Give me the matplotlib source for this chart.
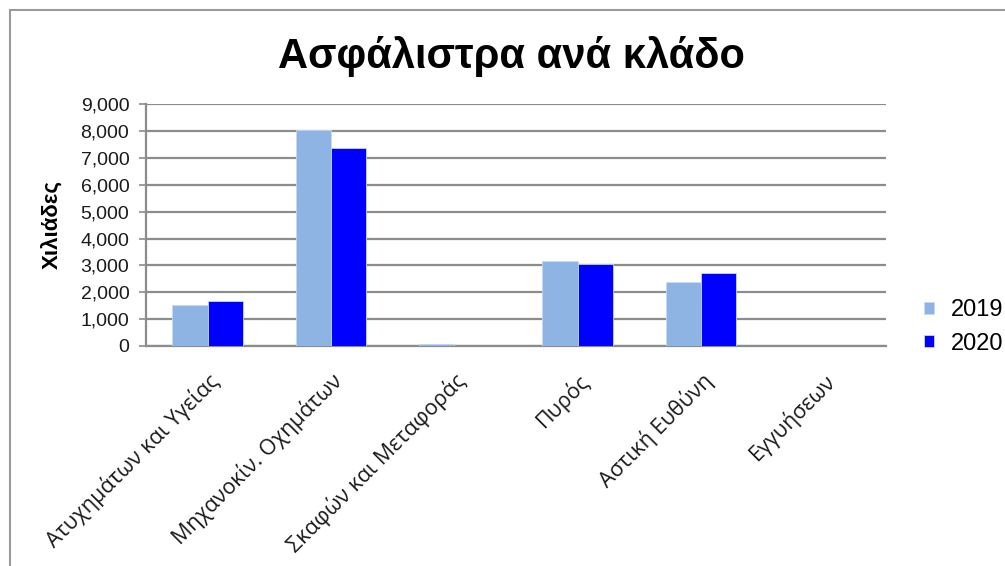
import matplotlib
matplotlib.use("Agg")
import matplotlib.pyplot as plt
from matplotlib.patches import Rectangle
import numpy as np

plt.rcParams['font.family'] = ['Liberation Sans', 'DejaVu Sans']

categories = ["Ατυχημάτων και Υγείας", "Μηχανοκίν. Οχημάτων", "Σκαφών και Μεταφοράς",
              "Πυρός", "Αστική Ευθύνη", "Εγγυήσεων"]
series_names = ["2019", "2020"]
values_2019 = [1530, 8030, 90, 3160, 2380, 0]
values_2020 = [1680, 7380, 0, 3040, 2720, 0]
yticks = [0, 1000, 2000, 3000, 4000, 5000, 6000, 7000, 8000, 9000]
ytick_labels = ["0", "1,000", "2,000", "3,000", "4,000", "5,000", "6,000", "7,000", "8,000", "9,000"]
title = "Ασφάλιστρα ανά κλάδο"
ylabel = "Χιλιάδες"

W, H = 1005, 566
fig = plt.figure(figsize=(W / 100, H / 100), dpi=100)
fig.patch.set_facecolor('white')

ax = fig.add_axes([146 / W, 1 - 346 / H, (886 - 146) / W, (346 - 104.3) / H])

x = np.arange(len(categories))
bw = 1 / 3.5
ax.bar(x - bw / 2, values_2019, width=bw, color='#8EB4E3', edgecolor='#C6D9F1', linewidth=0.6,
       label=series_names[0], zorder=3)
ax.bar(x + bw / 2, values_2020, width=bw, color='#0000FF', edgecolor='#C6D9F1', linewidth=0.6,
       label=series_names[1], zorder=3)

ax.set_xlim(-0.5, len(categories) - 0.5)
ax.set_ylim(0, 9000)
ax.set_yticks(yticks)
ax.set_yticklabels(ytick_labels, fontsize=14, color='#1A1A1A')
ax.yaxis.grid(True, color='#8C8C8C', linewidth=1.6, zorder=0)
ax.set_axisbelow(True)
for s in ['top', 'right']:
    ax.spines[s].set_visible(False)
for s in ['left', 'bottom']:
    ax.spines[s].set_color('#8C8C8C')
    ax.spines[s].set_linewidth(1.6)
ax.tick_params(axis='y', length=5, width=1.2, color='#8C8C8C', pad=7)
ax.tick_params(axis='x', length=0, pad=17)

ax.set_xticks(x)
ax.set_xticklabels(categories, rotation=45, ha='right', va='top', rotation_mode='anchor',
                   fontsize=15.5, family=['Open Sans', 'Liberation Sans'], color='#1A1A1A')

fig.text(52 / W, 1 - 225 / H, ylabel, fontsize=16, fontweight='bold', rotation=90,
         ha='center', va='center')

fig.text(511 / W, 1 - 68 / H, title, fontsize=30, fontweight='bold', ha='center', va='baseline')

leg = ax.legend(loc='center left', bbox_to_anchor=(1.052, 0.079), frameon=False, fontsize=17,
                handlelength=0.4, handleheight=0.4, handletextpad=0.73, labelspacing=0.5,
                borderpad=0, borderaxespad=0)

border = Rectangle((10 / W, -0.1), 1.2, 1 - 10 / H + 0.1, transform=fig.transFigure,
                   fill=False, edgecolor='#9A9A9A', linewidth=1.5)
fig.add_artist(border)

fig.savefig('out.png', dpi=100)
